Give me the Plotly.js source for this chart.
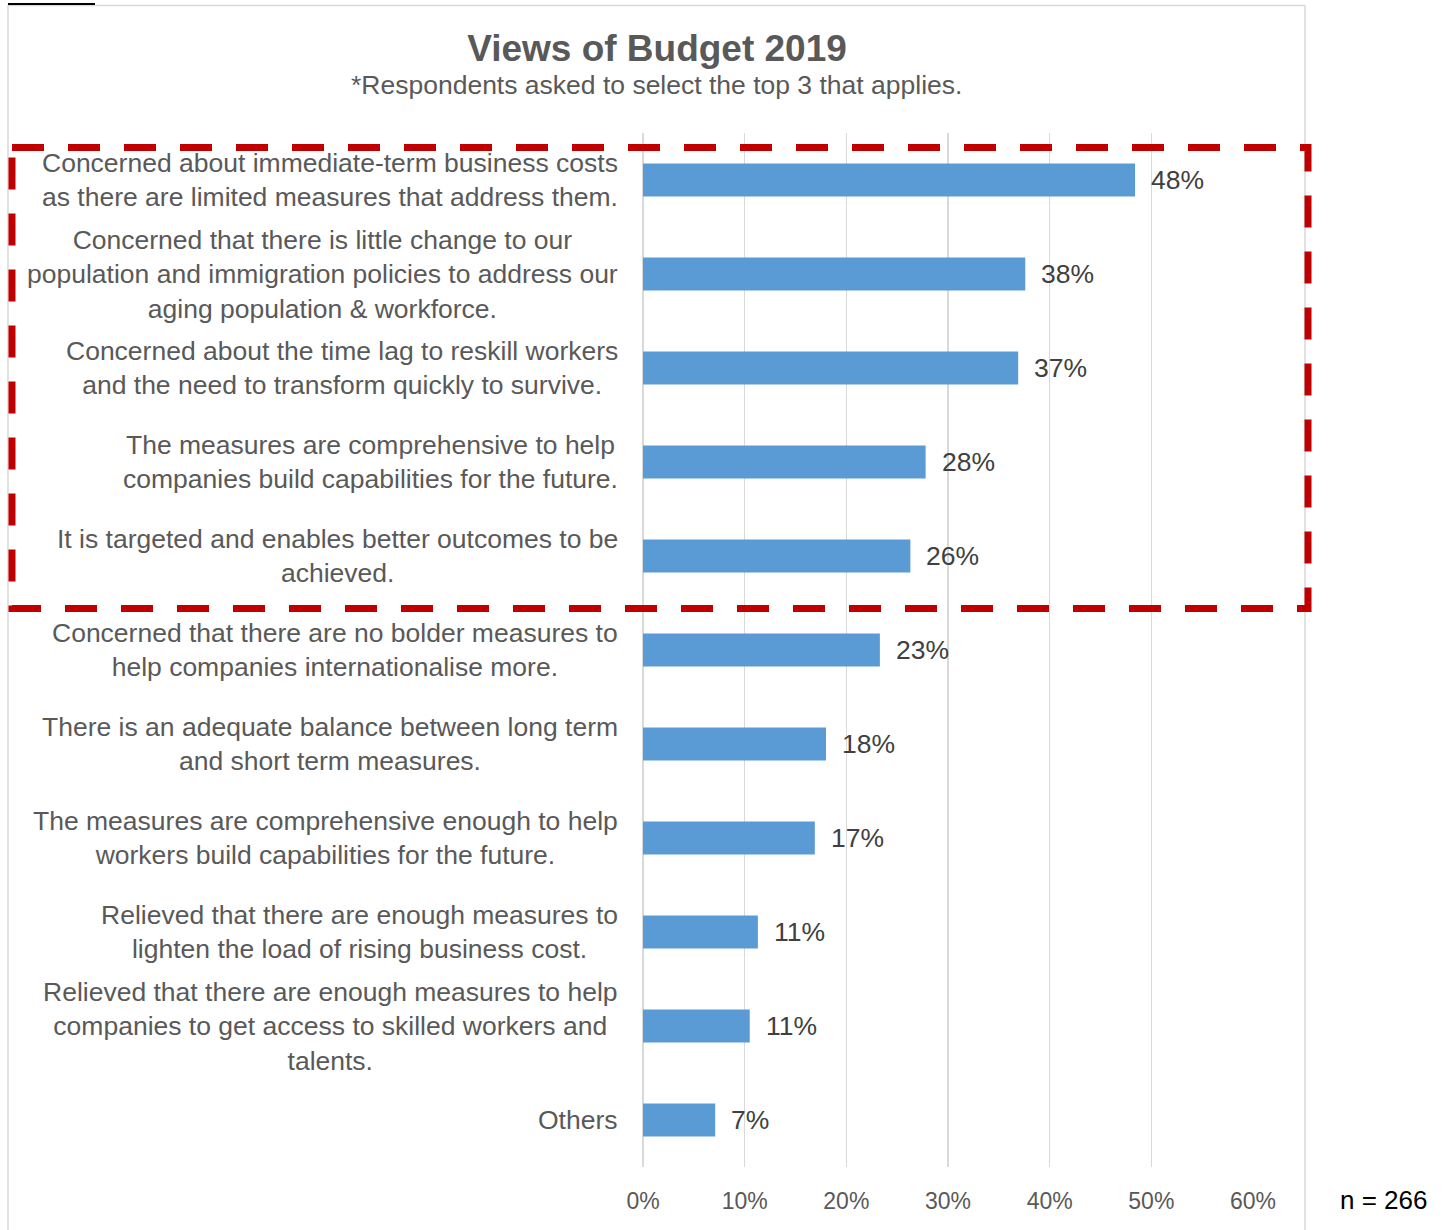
<!DOCTYPE html>
<html>
<head>
<meta charset="utf-8">
<script src="https://cdn.plot.ly/plotly-3.0.1.min.js"></script>
<style>html,body{margin:0;padding:0;background:#fff;}#chart{width:1445px;height:1230px;}</style>
</head>
<body>
<div id="chart"></div>
<script>
// ---- data ----
var categories = [
  "Concerned about immediate-term business costs<br>as there are limited measures that address them.",
  "Concerned that there is little change to our<br>population and immigration policies to address our<br>aging population & workforce.",
  "Concerned about the time lag to reskill workers<br>and the need to transform quickly to survive.",
  "The measures are comprehensive to help<br>companies build capabilities for the future.",
  "It is targeted and enables better outcomes to be<br>achieved.",
  "Concerned that there are no bolder measures to<br>help companies internationalise more.",
  "There is an adequate balance between long term<br>and short term measures.",
  "The measures are comprehensive enough to help<br>workers build capabilities for the future.",
  "Relieved that there are enough measures to<br>lighten the load of rising business cost.",
  "Relieved that there are enough measures to help<br>companies to get access to skilled workers and<br>talents.",
  "Others"
];
var values = [0.484, 0.376, 0.369, 0.278, 0.263, 0.233, 0.180, 0.169, 0.113, 0.105, 0.071];
var titleText = "Views of Budget 2019";
var subtitleText = "*Respondents asked to select the top 3 that applies.";
var sampleText = "n = 266";

// ---- layout helpers (pixel -> paper) ----
var W = 1445, H = 1230;
var ML = 643, MR = 192, MT = 133, MB = 63;
var PW = W - ML - MR, PH = H - MT - MB;
function px(x) { return (x - ML) / PW; }
function py(y) { return (H - MB - y) / PH; }

var FONT = "Liberation Sans, Arial, Helvetica, sans-serif";

var trace = {
  type: "bar",
  orientation: "h",
  x: values,
  y: categories,
  marker: { color: "#5b9bd5", line: { width: 0 } },
  hoverinfo: "none"
};

var annotations = [];
categories.forEach(function (c, i) {
  annotations.push({
    xref: "paper", yref: "y", x: 0, y: c,
    xanchor: "right", yanchor: "middle", xshift: -23,
    align: "center", showarrow: false, text: c,
    font: { family: FONT, size: 26.5, color: "#595959" }
  });
  annotations.push({
    xref: "x", yref: "y", x: values[i], y: c,
    xanchor: "left", yanchor: "middle", xshift: 14,
    showarrow: false, text: Math.round(values[i] * 100) + "%",
    font: { family: FONT, size: 26.5, color: "#404040" }
  });
});
annotations.push({
  xref: "paper", yref: "paper", x: px(656), y: py(85),
  xanchor: "center", yanchor: "middle", showarrow: false,
  text: subtitleText, font: { family: FONT, size: 26.5, color: "#595959" }
});
annotations.push({
  xref: "paper", yref: "paper", x: px(1383), y: py(1200),
  xanchor: "center", yanchor: "middle", showarrow: false,
  text: sampleText, font: { family: FONT, size: 26, color: "#000000" }
});

var layout = {
  width: W, height: H,
  margin: { l: ML, r: MR, t: MT, b: MB, pad: 0 },
  paper_bgcolor: "#ffffff", plot_bgcolor: "#ffffff",
  showlegend: false,
  bargap: 0.65,
  title: {
    text: titleText, xref: "paper", x: px(657), xanchor: "center",
    yref: "container", y: 1 - 48 / H, yanchor: "middle",
    font: { family: FONT, size: 37, color: "#595959", weight: "bold" }
  },
  xaxis: {
    range: [0, 0.6], dtick: 0.1, tickformat: ".0%",
    showgrid: true, gridcolor: "#d9d9d9", gridwidth: 1.6,
    zeroline: true, zerolinecolor: "#d9d9d9", zerolinewidth: 1.6,
    showline: false, ticks: "", ticklabelstandoff: 18,
    tickfont: { family: FONT, size: 23, color: "#595959" },
    fixedrange: true
  },
  yaxis: {
    autorange: "reversed", showticklabels: false, showgrid: false,
    zeroline: false, showline: false, ticks: "", fixedrange: true
  },
  annotations: annotations,
  shapes: [
    { type: "rect", xref: "paper", yref: "paper",
      x0: px(8), x1: px(1305), y0: py(5.5), y1: py(1240),
      line: { color: "#d9d9d9", width: 1.5 }, fillcolor: "rgba(0,0,0,0)" },
    { type: "line", xref: "paper", yref: "paper",
      x0: px(8), x1: px(95), y0: py(4), y1: py(4),
      line: { color: "#000000", width: 2 } },
    { type: "rect", xref: "paper", yref: "paper",
      x0: px(12), x1: px(1308), y0: py(147.5), y1: py(608.5),
      line: { color: "#c00000", width: 7, dash: "32px,24px" },
      fillcolor: "rgba(0,0,0,0)" }
  ]
};

Plotly.newPlot("chart", [trace], layout, { displayModeBar: false, staticPlot: true });
</script>
</body>
</html>
